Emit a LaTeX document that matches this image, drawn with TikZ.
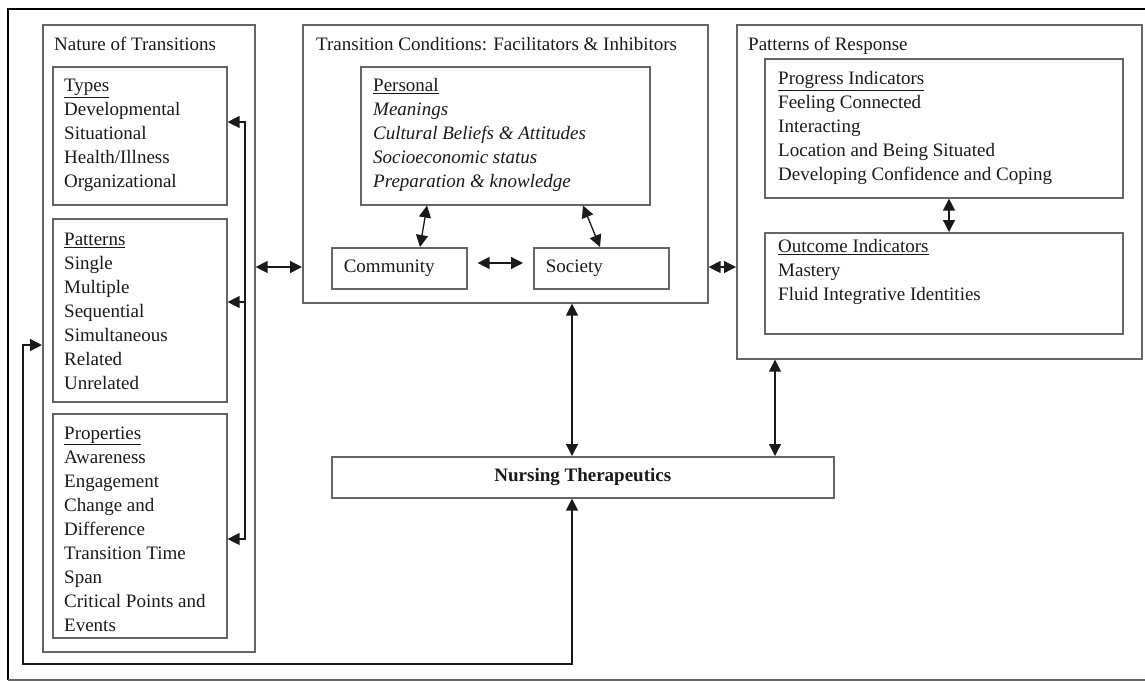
\documentclass[tikz,border=0pt]{standalone}
\usepackage{fontspec}
\setmainfont{Liberation Serif}
\usetikzlibrary{arrows.meta,calc}
\definecolor{boxgray}{HTML}{666666}
\definecolor{ink}{HTML}{1A1A1A}
\begin{document}
\begin{tikzpicture}[x=1pt,y=-1pt,
  box/.style={draw=boxgray,line width=1.6pt,rectangle,inner sep=0pt,anchor=north west},
  txt/.style={inner sep=0pt,anchor=north west,align=left,text=ink,font=\fontsize{19}{24}\selectfont},
  single/.style={box,inner xsep=12pt,align=left,text=ink,font=\fontsize{19}{24}\selectfont},
  conn/.style={draw=ink,line width=1.3pt},
  arr/.style={conn,-{Triangle[length=12pt,width=12pt]}},
  darr/.style={conn,{Triangle[length=12pt,width=12pt]}-{Triangle[length=12pt,width=12pt]}}]
\useasboundingbox (0,0) rectangle (1145,681);
% outer frame
\draw[black,line width=2.6pt] (8,680) -- (8,9) -- (1146,9);
\draw[boxgray,line width=1.6pt] (8,680) -- (1146,680);

% Nature of Transitions
\node[box,minimum width=212pt,minimum height=627pt] (nature) at (42,24) {};
\node[txt] (natureT) at (54,33.2) {\strut Nature of Transitions};
\node[box,minimum width=174pt,minimum height=138pt] (types) at (52,66) {};
\node[txt] (typesT) at (64,74.2) {\strut\underline{Types}\\Developmental\\Situational\\Health/Illness\\Organizational};
\node[box,minimum width=174pt,minimum height=183pt] (patterns) at (52,218) {};
\node[txt] (patternsT) at (64,228.2) {\strut\underline{Patterns}\\Single\\Multiple\\Sequential\\Simultaneous\\Related\\Unrelated};
\node[box,minimum width=174pt,minimum height=224pt] (props) at (52,413) {};
\node[txt] (propsT) at (64,422.2) {\strut\underline{Properties}\\Awareness\\Engagement\\Change and\\Difference\\Transition Time\\Span\\Critical Points and\\Events};

% Transition Conditions
\node[box,minimum width=405pt,minimum height=278pt] (cond) at (302,24) {};
\node[txt] (condT) at (316,33.2) {\strut Transition Conditions: Facilitators \& Inhibitors};
\node[box,minimum width=289pt,minimum height=138pt] (personal) at (360,66) {};
\node[txt] (personalT) at (373,74.2) {\strut\underline{Personal}\\\textit{Meanings}\\\textit{Cultural Beliefs \& Attitudes}\\\textit{Socioeconomic status}\\\textit{Preparation \& knowledge}};
\node[single,minimum width=135pt,minimum height=41pt,text width=111pt] (community) at (331,247) {Community};
\node[single,minimum width=135pt,minimum height=41pt,text width=111pt] (society) at (533,247) {Society};

% Patterns of Response
\node[box,minimum width=405pt,minimum height=334pt] (response) at (736,24) {};
\node[txt] (responseT) at (748,33.2) {\strut Patterns of Response};
\node[box,minimum width=358pt,minimum height=139pt] (progress) at (764,58) {};
\node[txt] (progressT) at (778,67.2) {\strut\underline{Progress Indicators}\\Feeling Connected\\Interacting\\Location and Being Situated\\Developing Confidence and Coping};
\node[box,minimum width=358pt,minimum height=101pt] (outcome) at (764,232) {};
\node[txt] (outcomeT) at (778,235.2) {\strut\underline{Outcome Indicators}\\Mastery\\Fluid Integrative Identities};

% Nursing Therapeutics
\node[box,minimum width=502pt,minimum height=41pt,text=ink,font=\fontsize{19}{24}\selectfont\bfseries] (nursing) at (331,456) {Nursing Therapeutics};

% bus on the right of the Nature boxes
\coordinate (b1) at (245,122);
\coordinate (b2) at (245,302);
\coordinate (b3) at (245,539);
\draw[darr] (types.east |- b1) -- (b1) -- (b3) -- (props.east |- b3);
\draw[arr] (b2) -- (patterns.east |- b2);

% horizontal links between the three columns
\coordinate (mid) at (0,267);
\draw[darr] (nature.east |- mid) -- (cond.west |- mid);
\draw[darr] (cond.east |- mid) -- (response.west |- mid);
\coordinate (cs) at (0,263);
\draw[darr,shorten <=10pt,shorten >=10pt] (community.east |- cs) -- (society.west |- cs);

% personal links
\draw[darr] (personal.south -| 427,0) -- (community.north -| 420,0);
\draw[darr] (personal.south -| 583,0) -- (society.north -| 600,0);

% progress - outcome
\coordinate (po) at (949,0);
\draw[darr] (progress.south -| po) -- (outcome.north -| po);

% links to nursing therapeutics
\coordinate (cn) at (572,0);
\coordinate (rn) at (775,0);
\draw[darr] (cond.south -| cn) -- (nursing.north -| cn);
\draw[darr] (response.south -| rn) -- (nursing.north -| rn);

% feedback loop
\coordinate (f1) at (572,664);
\coordinate (f2) at (23,664);
\coordinate (f3) at (23,345);
\draw[darr] (nursing.south -| f1) -- (f1) -- (f2) -- (f3) -- (nature.west |- f3);
\end{tikzpicture}
\end{document}
